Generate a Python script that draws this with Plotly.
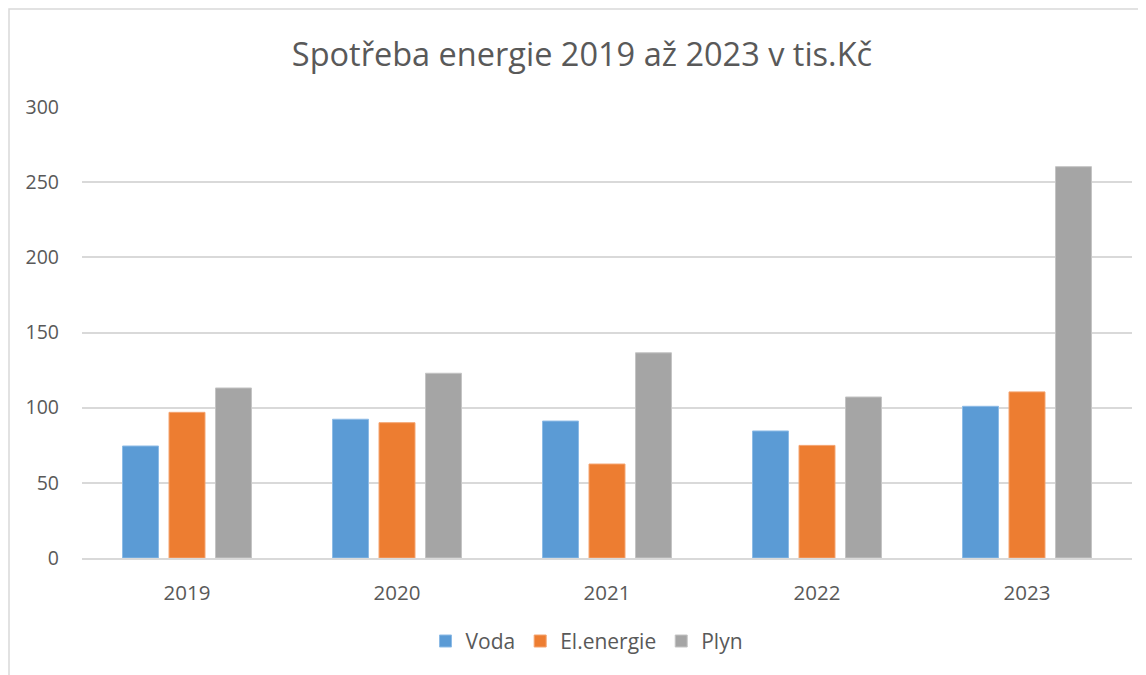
import plotly.graph_objects as go

years = ["2019", "2020", "2021", "2022", "2023"]
voda = [74.5, 92.3, 91.1, 84.5, 100.9]
el_energie = [96.9, 90.0, 62.5, 74.9, 110.5]
plyn = [113.1, 122.9, 136.5, 107.1, 260.3]

FONT = "'Open Sans', sans-serif"
OFF = 8  # page body margin offset

W, H = 1146 - OFF, 675 - OFF
PL, PR, PT, PB = 82 - OFF, 1132 - OFF, 107 - OFF, 557.7 - OFF

fig = go.Figure()
for name, vals, color, edge in [
    ("Voda", voda, "#5B9BD5", "#8DBBE6"),
    ("El.energie", el_energie, "#ED7D31", "#F4A470"),
    ("Plyn", plyn, "#A5A5A5", "#C4C4C4"),
]:
    fig.add_trace(go.Bar(x=years, y=vals, name=name,
                         marker=dict(color=color, line=dict(color=edge, width=1))))

pw, ph = PR - PL, PB - PT
fig.update_layout(
    width=W, height=H,
    paper_bgcolor="white", plot_bgcolor="white",
    margin=dict(l=PL, r=W - PR, t=PT, b=H - PB, pad=0),
    barmode="group", bargap=0.336, bargroupgap=0.226,
    font=dict(family=FONT, color="#595959", size=17),
    title=dict(text="Spotřeba energie 2019 až 2023 v tis.Kč",
               x=(582 - OFF) / W, xanchor="center", y=1 - (55 - OFF) / H, yanchor="middle",
               xref="container", yref="container",
               font=dict(size=32.5, color="#595959", family=FONT)),
    legend=dict(orientation="h", x=(587 - 82) / pw, xanchor="center",
                y=(557.7 - 641) / ph, yanchor="middle",
                font=dict(size=21, color="#595959"), itemwidth=30, traceorder="normal"),
    xaxis=dict(showgrid=False, showline=True, linecolor="#D9D9D9", linewidth=2,
               ticks="", ticklabelstandoff=15, tickfont=dict(size=20.5)),
    yaxis=dict(range=[0, 300], dtick=50, showgrid=True, gridcolor="#D9D9D9", gridwidth=2,
               zeroline=False, showline=False, ticks="", ticklabelstandoff=22,
               tickfont=dict(size=19.5)),
    shapes=[dict(type="rect", xref="paper", yref="paper",
                 x0=(9 - 82) / pw, x1=(1152 - 82) / pw,
                 y0=(557.7 - 680) / ph, y1=(557.7 - 9) / ph,
                 line=dict(color="#D9D9D9", width=1.5), fillcolor="rgba(0,0,0,0)",
                 layer="below")],
)

fig.write_html("out.html")
